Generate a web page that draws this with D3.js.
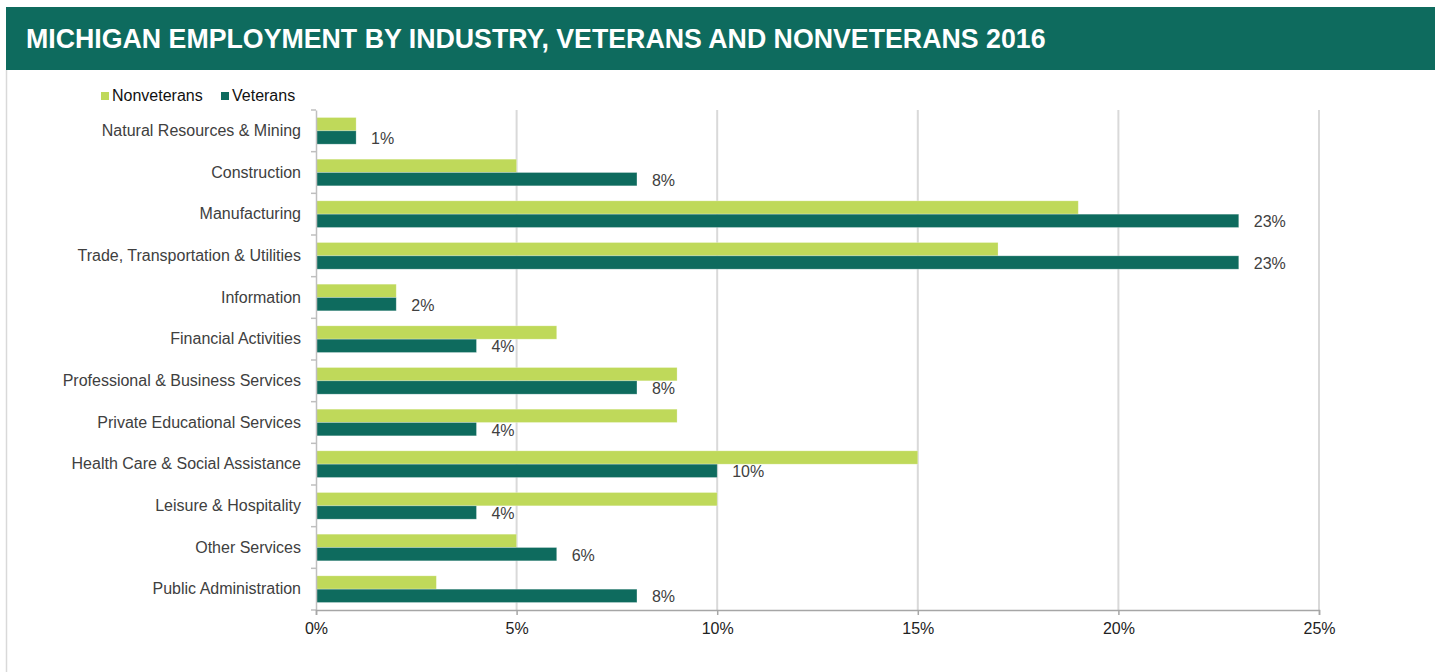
<!DOCTYPE html>
<html>
<head>
<meta charset="utf-8">
<script src="https://cdn.jsdelivr.net/npm/d3@7"></script>
<style>
  html, body { margin: 0; padding: 0; background: #fff; }
  svg { display: block; font-family: "Liberation Sans", Arial, sans-serif; }
</style>
</head>
<body>
<svg id="chart" width="1435" height="672"></svg>
<script>
const title = "MICHIGAN EMPLOYMENT BY INDUSTRY, VETERANS AND NONVETERANS 2016";
const categories = [
  "Natural Resources & Mining",
  "Construction",
  "Manufacturing",
  "Trade, Transportation & Utilities",
  "Information",
  "Financial Activities",
  "Professional & Business Services",
  "Private Educational Services",
  "Health Care & Social Assistance",
  "Leisure & Hospitality",
  "Other Services",
  "Public Administration"
];
const seriesNames = ["Nonveterans", "Veterans"];
const nonveterans = [1, 5, 19, 17, 2, 6, 9, 9, 15, 10, 5, 3];
const veterans = [1, 8, 23, 23, 2, 4, 8, 4, 10, 4, 6, 8];
const xTicks = [0, 5, 10, 15, 20, 25];
const colors = { Nonveterans: "#bfd95a", Veterans: "#0e6b5e" };

const svg = d3.select("#chart");
const W = 1435, H = 672;
const margin = { left: 316, right: W - 1319, top: 110, bottom: H - 610 };

// Title band
svg.append("rect").attr("x", 6).attr("y", 7).attr("width", W - 6).attr("height", 63).attr("fill", "#0e6b5e");
const t = svg.append("text").attr("x", 26).attr("y", 48)
  .attr("fill", "#fff").attr("font-weight", "bold").attr("font-size", 26)
  .text(title);
const tw = t.node().getComputedTextLength();
t.attr("font-size", 26 * 1020 / tw);

// Left panel border
svg.append("line").attr("x1", 6.5).attr("x2", 6.5).attr("y1", 70).attr("y2", H)
  .attr("stroke", "#d9d9d9").attr("stroke-width", 1.5);

const x = d3.scaleLinear().domain([0, 25]).range([margin.left, W - margin.right]);
const y = d3.scaleBand().domain(categories).range([margin.top, H - margin.bottom])
  .paddingInner(0.36).paddingOuter(0.18);
const ySub = d3.scaleBand().domain(seriesNames).range([0, y.bandwidth()]);

// Gridlines
svg.append("g").selectAll("line").data(xTicks.filter(d => d > 0)).join("line")
  .attr("x1", d => x(d)).attr("x2", d => x(d))
  .attr("y1", margin.top).attr("y2", H - margin.bottom)
  .attr("stroke", "#d9d9d9").attr("stroke-width", 2);

// Bars
const data = categories.map((c, i) => ({ cat: c, values: [
  { key: "Nonveterans", v: nonveterans[i] },
  { key: "Veterans", v: veterans[i] }
]}));
const groups = svg.append("g").selectAll("g").data(data).join("g")
  .attr("transform", d => `translate(0,${y(d.cat)})`);
groups.selectAll("rect").data(d => d.values).join("rect")
  .attr("x", x(0))
  .attr("y", d => ySub(d.key))
  .attr("width", d => x(d.v) - x(0))
  .attr("height", ySub.bandwidth())
  .attr("fill", d => colors[d.key])
  .attr("stroke", "rgba(255,255,255,0.35)").attr("stroke-width", 0.75);

// Data labels for veterans
groups.append("text")
  .attr("x", (d, i) => x(veterans[i]) + 15)
  .attr("y", ySub("Veterans") + ySub.bandwidth() / 2 + 1)
  .attr("dy", "0.35em")
  .attr("font-size", 16).attr("fill", "#404040")
  .text((d, i) => veterans[i] + "%");

// Y axis
const yAxis = d3.axisLeft(y).tickSize(0).tickPadding(15);
const gy = svg.append("g").attr("transform", `translate(${margin.left},0)`).call(yAxis);
gy.select(".domain").attr("stroke", "#bfbfbf").attr("stroke-width", 1.5);
gy.selectAll("text").attr("font-size", 16).attr("fill", "#404040")
  .attr("font-family", "Liberation Sans, Arial, sans-serif");
// category boundary ticks
const bounds = d3.range(categories.length + 1).map(i => margin.top + i * y.step());
svg.append("g").selectAll("line").data(bounds).join("line")
  .attr("x1", margin.left - 5).attr("x2", margin.left)
  .attr("y1", d => d).attr("y2", d => d)
  .attr("stroke", "#bfbfbf").attr("stroke-width", 1.5);

// X axis
const xAxis = d3.axisBottom(x).tickValues(xTicks).tickFormat(d => d + "%").tickSize(5).tickPadding(8);
const gx = svg.append("g").attr("transform", `translate(0,${H - margin.bottom})`).call(xAxis);
gx.select(".domain").attr("stroke", "#a6a6a6").attr("stroke-width", 1.5);
gx.selectAll(".tick line").attr("stroke", "#a6a6a6").attr("stroke-width", 1.5);
gx.selectAll("text").attr("font-size", 16).attr("fill", "#222")
  .attr("font-family", "Liberation Sans, Arial, sans-serif");

// Legend
const legend = svg.append("g");
const legendX = [101, 221];
seriesNames.forEach((s, i) => {
  legend.append("rect").attr("x", legendX[i]).attr("y", 92).attr("width", 8).attr("height", 8)
    .attr("fill", colors[s]);
  legend.append("text").attr("x", legendX[i] + 11).attr("y", 101)
    .attr("font-size", 16).attr("fill", "#111").text(s);
});
</script>
</body>
</html>
